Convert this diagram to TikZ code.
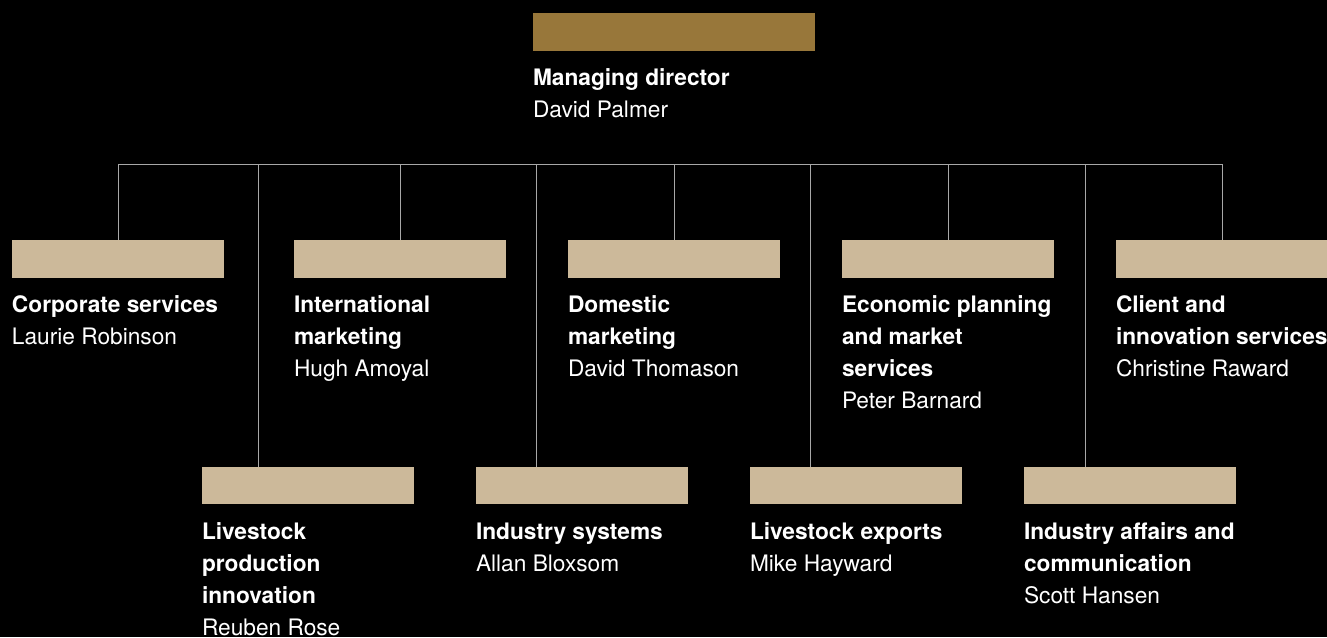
\documentclass[tikz,border=0pt]{standalone}
\usepackage{fontspec}
\setmainfont{TeX Gyre Heros}

\definecolor{gold}{HTML}{98773A}
\definecolor{sand}{HTML}{CCB99A}
\definecolor{wire}{HTML}{A8A8A8}

\tikzset{
  unit/.style={fill=sand, minimum width=212pt, minimum height=37.5pt, inner sep=0pt},
  head/.style={fill=gold, minimum width=282pt, minimum height=38pt, inner sep=0pt},
  info/.style={anchor=north west, inner sep=0pt, align=left, text=white,
    font=\fontsize{22.7}{32}\selectfont, yshift=-12.6pt},
  link/.style={draw=wire, line width=1pt},
}

\begin{document}
\begin{tikzpicture}[x=1pt, y=-1pt]
\useasboundingbox (0,0) rectangle (1327,637);
\fill[black] (0,0) rectangle (1327,637);

% managing director
\node[head] (md) at (674,32) {};
\node[info, yshift=1pt] (md-text) at (md.south west) {\strut\textbf{Managing director}\\David Palmer};

% first row
\node[unit] (corp) at (118,258.75) {};
\node[unit] (intl) at (400,258.75) {};
\node[unit] (domestic) at (674,258.75) {};
\node[unit] (econ) at (948,258.75) {};
\node[unit] (client) at (1222,258.75) {};

\node[info] (corp-text) at (corp.south west) {\strut\textbf{Corporate services}\\Laurie Robinson};
\node[info] (intl-text) at (intl.south west) {\strut\textbf{International}\\\textbf{marketing}\\Hugh Amoyal};
\node[info] (domestic-text) at (domestic.south west) {\strut\textbf{Domestic}\\\textbf{marketing}\\David Thomason};
\node[info] (econ-text) at (econ.south west) {\strut\textbf{Economic planning}\\\textbf{and market}\\\textbf{services}\\Peter Barnard};
\node[info] (client-text) at (client.south west) {\strut\textbf{Client and}\\\textbf{innovation services}\\Christine Raward};

% second row
\node[unit] (lpi) at (308,485.5) {};
\node[unit] (indsys) at (582,485.5) {};
\node[unit] (lexp) at (856,485.5) {};
\node[unit] (indaff) at (1130,485.5) {};

\node[info] (lpi-text) at (lpi.south west) {\strut\textbf{Livestock}\\\textbf{production}\\\textbf{innovation}\\Reuben Rose};
\node[info] (indsys-text) at (indsys.south west) {\strut\textbf{Industry systems}\\Allan Bloxsom};
\node[info] (lexp-text) at (lexp.south west) {\strut\textbf{Livestock exports}\\Mike Hayward};
\node[info] (indaff-text) at (indaff.south west) {\strut\textbf{Industry affairs and}\\\textbf{communication}\\Scott Hansen};

% connectors
\coordinate (bus) at (0,164);
\coordinate (lpi-top) at ([xshift=57pt]lpi.north west);
\coordinate (indsys-top) at ([xshift=61pt]indsys.north west);
\coordinate (lexp-top) at ([xshift=61pt]lexp.north west);
\coordinate (indaff-top) at ([xshift=62pt]indaff.north west);

\draw[link] (corp.north |- bus) -- (client.north |- bus);
\draw[link] (corp.north |- bus) -- (corp.north);
\draw[link] (intl.north |- bus) -- (intl.north);
\draw[link] (domestic.north |- bus) -- (domestic.north);
\draw[link] (econ.north |- bus) -- (econ.north);
\draw[link] (client.north |- bus) -- (client.north);
\draw[link] (lpi-top |- bus) -- (lpi-top);
\draw[link] (indsys-top |- bus) -- (indsys-top);
\draw[link] (lexp-top |- bus) -- (lexp-top);
\draw[link] (indaff-top |- bus) -- (indaff-top);
\end{tikzpicture}
\end{document}
